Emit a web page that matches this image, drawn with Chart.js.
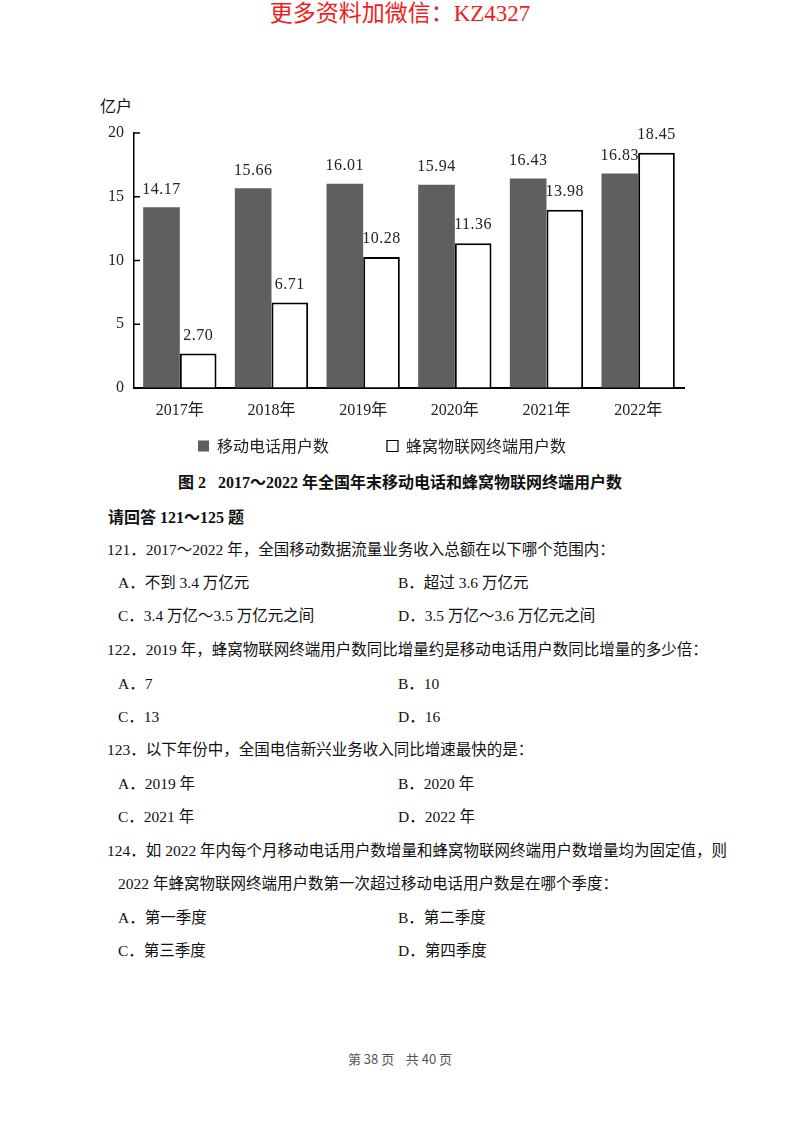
<!DOCTYPE html>
<html>
<head>
<meta charset="utf-8">
<script src="https://cdn.jsdelivr.net/npm/chart.js@4"></script>
<style>
  body { margin: 0; background: #fff; }
  #page { position: relative; width: 800px; height: 1124px; overflow: hidden; background: #fff;
          font-family: "Liberation Serif", "Noto Sans CJK SC", serif; color: #111; font-size: 15.5px; }
  .t { position: absolute; line-height: 20px; white-space: nowrap; }
  .c { left: 0; width: 800px; text-align: center; }
  .b { font-weight: bold; }
  #head { top: 2px; line-height: 24px; font-size: 23px; color: #f21c1c; }
  #chartBox { position: absolute; left: 80px; top: 90px; width: 620px; height: 374px; }
  #foot { top: 1049px; font-size: 13px; color: #555; font-family: "Noto Sans CJK SC", sans-serif; }
</style>
</head>
<body>
<div id="page">
  <div class="t c" id="head">更多资料加微信：KZ4327</div>
  <div class="t" style="left:100px;top:97px;font-size:16px;">亿户</div>
  <div id="chartBox"><canvas id="myChart"></canvas></div>

  <div class="t c b" style="top:473px;font-size:16px;">图 2&nbsp;&nbsp; 2017～2022 年全国年末移动电话和蜂窝物联网终端用户数</div>
  <div class="t b" style="left:108px;top:508px;font-size:16px;">请回答 121～125 题</div>

  <div class="t" style="left:107px;top:540px;">121．2017～2022 年，全国移动数据流量业务收入总额在以下哪个范围内：</div>
  <div class="t" style="left:118px;top:573px;">A．不到 3.4 万亿元</div>
  <div class="t" style="left:398px;top:573px;">B．超过 3.6 万亿元</div>
  <div class="t" style="left:118px;top:606px;">C．3.4 万亿～3.5 万亿元之间</div>
  <div class="t" style="left:398px;top:606px;">D．3.5 万亿～3.6 万亿元之间</div>

  <div class="t" style="left:107px;top:640px;">122．2019 年，蜂窝物联网终端用户数同比增量约是移动电话用户数同比增量的多少倍：</div>
  <div class="t" style="left:118px;top:674px;">A．7</div>
  <div class="t" style="left:398px;top:674px;">B．10</div>
  <div class="t" style="left:118px;top:707px;">C．13</div>
  <div class="t" style="left:398px;top:707px;">D．16</div>

  <div class="t" style="left:107px;top:740px;">123．以下年份中，全国电信新兴业务收入同比增速最快的是：</div>
  <div class="t" style="left:118px;top:774px;">A．2019 年</div>
  <div class="t" style="left:398px;top:774px;">B．2020 年</div>
  <div class="t" style="left:118px;top:807px;">C．2021 年</div>
  <div class="t" style="left:398px;top:807px;">D．2022 年</div>

  <div class="t" style="left:107px;top:841px;">124．如 2022 年内每个月移动电话用户数增量和蜂窝物联网终端用户数增量均为固定值，则</div>
  <div class="t" style="left:118px;top:874px;">2022 年蜂窝物联网终端用户数第一次超过移动电话用户数是在哪个季度：</div>
  <div class="t" style="left:118px;top:908px;">A．第一季度</div>
  <div class="t" style="left:398px;top:908px;">B．第二季度</div>
  <div class="t" style="left:118px;top:941px;">C．第三季度</div>
  <div class="t" style="left:398px;top:941px;">D．第四季度</div>

  <div class="t c" id="foot">第 38 页&nbsp;&nbsp;&nbsp;&nbsp;共 40 页</div>
</div>

<script>
// chart data
const years = ["2017年", "2018年", "2019年", "2020年", "2021年", "2022年"];
const mobileUsers = [14.17, 15.66, 16.01, 15.94, 16.43, 16.83];
const iotUsers = [2.70, 6.71, 10.28, 11.36, 13.98, 18.45];
const yTicks = [0, 5, 10, 15, 20];

const numFont = '16px "Liberation Serif", "Noto Sans CJK SC", serif';

// value labels above each bar
const valueLabels = {
    id: 'valueLabels',
    afterDatasetsDraw(chart) {
        const ctx = chart.ctx;
        ctx.save();
        ctx.font = numFont;
        ctx.letterSpacing = '0.5px';
        ctx.fillStyle = '#222';
        ctx.textAlign = 'center';
        ctx.textBaseline = 'middle';
        chart.data.datasets.forEach((ds, i) => {
            chart.getDatasetMeta(i).data.forEach((bar, j) => {
                ctx.fillText(ds.data[j].toFixed(2), bar.x, bar.y - 18);
            });
        });
        ctx.restore();
    }
};

// short tick marks pointing into the plot, as in the original
const innerTicks = {
    id: 'innerTicks',
    afterDraw(chart) {
        const y = chart.scales.y;
        const ctx = chart.ctx;
        ctx.save();
        ctx.strokeStyle = '#000';
        ctx.lineWidth = 1.5;
        yTicks.forEach(v => {
            const py = y.getPixelForValue(v);
            ctx.beginPath();
            ctx.moveTo(y.right, py);
            ctx.lineTo(y.right + 6, py);
            ctx.stroke();
        });
        ctx.restore();
    }
};

const ctx = document.getElementById('myChart').getContext('2d');
const myChart = new Chart(ctx, {
    type: 'bar',
    data: {
        labels: years,
        datasets: [{
            label: '移动电话用户数',
            data: mobileUsers,
            backgroundColor: '#5f5f5f',
            borderWidth: 0
        }, {
            label: '蜂窝物联网终端用户数',
            data: iotUsers,
            backgroundColor: '#ffffff',
            borderColor: '#000000',
            borderWidth: 2
        }]
    },
    options: {
        responsive: true,
        maintainAspectRatio: false,
        animation: false,
        events: [],
        layout: { padding: { top: 43, right: 16, left: 0, bottom: 0 } },
        datasets: { bar: { categoryPercentage: 0.8, barPercentage: 1.0 } },
        plugins: {
            tooltip: { enabled: false },
            legend: {
                position: 'bottom',
                labels: {
                    boxWidth: 11,
                    boxHeight: 11,
                    padding: 10,
                    color: '#222',
                    font: { size: 16, family: '"Noto Sans CJK SC", sans-serif' },
                    generateLabels(chart) {
                        const items = Chart.defaults.plugins.legend.labels.generateLabels(chart);
                        items[0].text = items[0].text + '\u3000\u3000\u3000';
                        items[1].lineWidth = 1.2;
                        return items;
                    }
                }
            }
        },
        scales: {
            x: {
                grid: { display: false },
                border: { display: true, color: '#000', width: 2 },
                ticks: { color: '#222', font: { size: 16, family: '"Liberation Serif", "Noto Sans CJK SC", serif' }, padding: 5 },
                afterFit(scale) { scale.height = 40; }
            },
            y: {
                min: 0,
                max: 20,
                afterBuildTicks(scale) { scale.ticks = yTicks.map(v => ({ value: v })); },
                grid: { display: true, drawOnChartArea: false, drawTicks: false },
                border: { display: true, color: '#000', width: 1.5 },
                ticks: { color: '#222', font: { size: 16, family: '"Liberation Serif", serif' }, padding: 10 },
                afterFit(scale) { scale.width = 54; }
            }
        }
    },
    plugins: [valueLabels, innerTicks]
});
</script>
</body>
</html>
